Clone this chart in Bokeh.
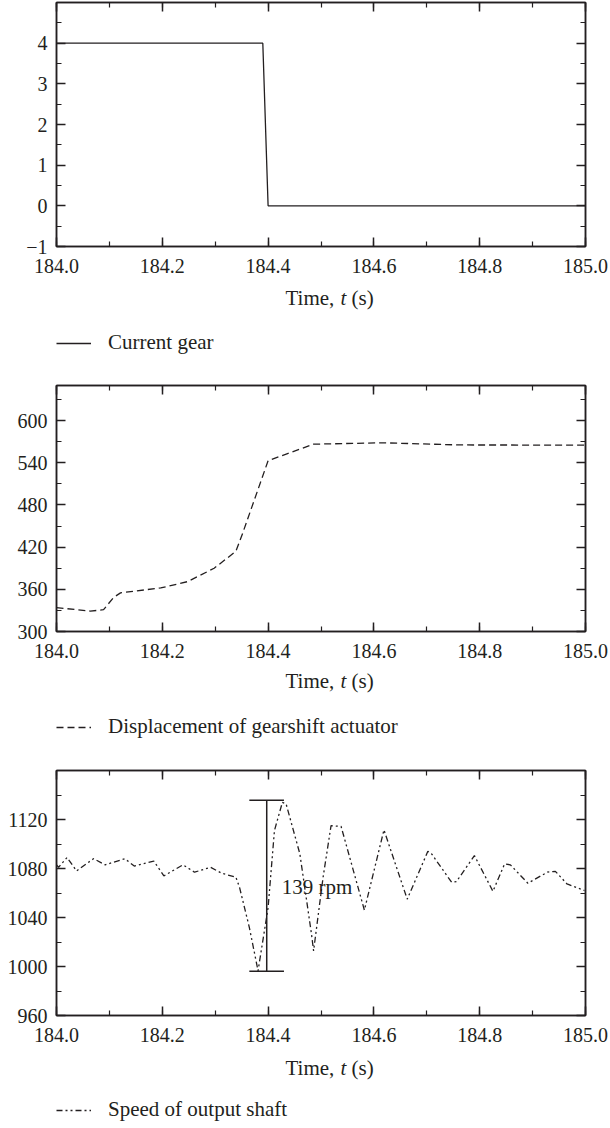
from bokeh.plotting import figure
from bokeh.models import (Range1d, FixedTicker, LinearAxis, Legend, LegendItem,
                          PrintfTickFormatter, CustomJSTickFormatter, Label)
from bokeh.layouts import column
from bokeh.embed import file_html
from bokeh.resources import INLINE
from bokeh.core.properties import value

FONT = "Liberation Serif"
INK = "#231f20"

# ---------------- data ----------------
time_ticks = [184.0, 184.2, 184.4, 184.6, 184.8, 185.0]
time_minor = [184.0, 184.1, 184.2, 184.3, 184.4, 184.5, 184.6, 184.7, 184.8, 184.9, 185.0]

# panel 1: current gear
gear_t = [184.0, 184.39, 184.40, 185.0]
gear_v = [4, 4, 0, 0]
gear_ticks = [-1, 0, 1, 2, 3, 4]
gear_minor = [-0.5, 0.5, 1.5, 2.5, 3.5, 4.5]

# panel 2: displacement of gearshift actuator
disp_t = [184.0, 184.064, 184.089, 184.108, 184.121, 184.197, 184.248, 184.298,
          184.339, 184.352, 184.400, 184.438, 184.486, 184.615, 184.762, 185.0]
disp_v = [334, 329, 331, 348.5, 355, 362, 371, 390,
          414, 440, 543, 553.5, 566.5, 568.5, 565.4, 565.2]
disp_ticks = [300, 360, 420, 480, 540, 600]
disp_minor = [330, 390, 450, 510, 570, 630]

# panel 3: speed of output shaft
speed_t = [184.0, 184.004, 184.020, 184.038, 184.070, 184.092, 184.129, 184.147, 184.184,
           184.203, 184.239, 184.261, 184.291, 184.313, 184.339, 184.346, 184.3645,
           184.381, 184.400, 184.412, 184.427, 184.434, 184.460, 184.482, 184.486,
           184.504, 184.519, 184.538, 184.582, 184.619, 184.663, 184.702, 184.709,
           184.747, 184.756, 184.790, 184.825, 184.847, 184.858, 184.891, 184.928,
           184.943, 184.965, 184.998]
speed_v = [1083, 1081, 1089, 1078, 1088, 1083, 1088, 1082, 1086,
           1074, 1083, 1077, 1081, 1076, 1073, 1064.6, 1032,
           996.5, 1048, 1111, 1134, 1132.8, 1092, 1026.5, 1012.8,
           1073, 1115, 1114.3, 1046, 1111.5, 1055, 1094, 1092,
           1068.7, 1069.3, 1090.5, 1061.4, 1083.7, 1083, 1068, 1077,
           1077.7, 1067.4, 1062]
speed_ticks = [960, 1000, 1040, 1080, 1120]
speed_minor = [980, 1020, 1060, 1100, 1140]

# amplitude annotation (139 rpm)
amp_t = [184.3974]
amp_low = [996.1]
amp_high = [1135.8]
amp_cap_t0 = [184.3645]
amp_cap_t1 = [184.430]
amp_text = ["139 rpm"]
amp_text_t = [184.4257]
amp_text_v = [1065]

legend_names = ["Current gear", "Displacement of gearshift actuator", "Speed of output shaft"]
x_title_parts = ["Time,", "t", "(s)"]


def mirror_axis(ticker):
    ax = LinearAxis(ticker=ticker,
                    formatter=CustomJSTickFormatter(code="return ''"),
                    major_label_text_font_size="0px", major_label_standoff=0,
                    major_tick_in=9, major_tick_out=0,
                    minor_tick_in=5, minor_tick_out=0,
                    major_tick_line_color=INK, minor_tick_line_color=INK,
                    major_tick_line_width=1.5, minor_tick_line_width=1.2,
                    axis_line_color=INK, axis_line_width=1.5)
    return ax


def make_panel(height, top, frame_h, yr, yticks, yminor, yoverrides):
    p = figure(width=610, height=height, x_range=Range1d(184.0, 185.0),
               y_range=Range1d(*yr), output_backend="svg", toolbar_location=None,
               tools="", min_border_left=56, min_border_right=25,
               min_border_top=top, min_border_bottom=height - top - frame_h)
    p.grid.visible = False
    p.outline_line_color = INK
    p.outline_line_width = 1.5
    p.background_fill_color = "white"
    p.border_fill_color = "white"

    xt = FixedTicker(ticks=time_ticks, minor_ticks=time_minor)
    yt = FixedTicker(ticks=yticks, minor_ticks=yminor)

    xa = p.xaxis[0]
    xa.ticker = xt
    xa.formatter = PrintfTickFormatter(format="%.1f")
    ya = p.yaxis[0]
    ya.ticker = yt
    if yoverrides:
        ya.major_label_overrides = yoverrides
    for ax in (xa, ya):
        ax.major_tick_in = 9
        ax.major_tick_out = 0
        ax.minor_tick_in = 5
        ax.minor_tick_out = 0
        ax.major_tick_line_color = INK
        ax.minor_tick_line_color = INK
        ax.major_tick_line_width = 1.5
        ax.minor_tick_line_width = 1.2
        ax.axis_line_color = INK
        ax.axis_line_width = 1.5
        ax.major_label_text_font = FONT
        ax.major_label_text_font_size = "20px"
        ax.major_label_text_color = INK
    xa.major_label_standoff = 12
    ya.major_label_standoff = 9

    p.add_layout(mirror_axis(xt), "above")
    p.add_layout(mirror_axis(yt), "right")
    return p


def make_caption(height, title_y, legend_y, name, xs, ys, dash):
    """Axis title 'Time, t (s)' and the legend row under a panel (y measured from top).
    The caption's frame is aligned with the panel frame above it (x offsets in px from frame left)."""
    c = figure(width=610, height=height, x_range=Range1d(184.0, 185.0), y_range=Range1d(height, 0),
               output_backend="svg", toolbar_location=None, tools="",
               x_axis_type=None, y_axis_type=None,
               min_border=0, min_border_left=56, min_border_right=25,
               min_border_top=0, min_border_bottom=0)
    c.grid.visible = False
    c.outline_line_color = None
    c.background_fill_color = "white"
    c.border_fill_color = "white"
    base = dict(y=title_y, x_units="screen", text_font=FONT, text_font_size="21px",
                text_color=INK, text_baseline="middle", text_align="left")
    c.add_layout(Label(x=229, text=x_title_parts[0], **base))
    c.add_layout(Label(x=283.9, text=x_title_parts[1], text_font_style="italic", **base))
    c.add_layout(Label(x=295.0, text=x_title_parts[2], **base))
    kw = dict(line_color=INK, line_width=1.3)
    if dash:
        kw["line_dash"] = dash
    # the series itself, hidden here: it only supplies the legend sample
    r = c.line(x=xs, y=ys, visible=False, **kw)
    leg = Legend(items=[LegendItem(label=name, renderers=[r])],
                 location=(0, height - legend_y - 12),
                 glyph_width=35, glyph_height=20, label_standoff=17,
                 padding=0, margin=0, border_line_color=None,
                 background_fill_alpha=0, inactive_fill_alpha=0,
                 label_text_font=FONT,
                 label_text_font_size="21px", label_text_color=INK)
    c.add_layout(leg)
    return c


# panel 1
p1 = make_panel(280, 2, 244, (-1, 5), gear_ticks, gear_minor, {-1: "\u22121"})
p1.line(gear_t, gear_v, line_color=INK, line_width=1.3)
c1 = make_caption(103, 17, 63, legend_names[0], gear_t, gear_v, None)

# panel 2
p2 = make_panel(282, 2, 246, (300, 650), disp_ticks, disp_minor, None)
p2.line(disp_t, disp_v, line_color=INK, line_width=1.3, line_dash="7 4")
c2 = make_caption(101, 15, 62, legend_names[1], disp_t, disp_v, "7 4")

# panel 3
p3 = make_panel(283, 4, 245, (960, 1160), speed_ticks, speed_minor, None)
p3.line(speed_t, speed_v, line_color=INK, line_width=1.3, line_dash="6 3 2 3 2 3")
p3.segment(x0=amp_t, y0=amp_low, x1=amp_t, y1=amp_high, line_color=INK, line_width=1.5)
p3.segment(x0=amp_cap_t0, y0=amp_low, x1=amp_cap_t1, y1=amp_low, line_color=INK, line_width=1.5)
p3.segment(x0=amp_cap_t0, y0=amp_high, x1=amp_cap_t1, y1=amp_high, line_color=INK, line_width=1.5)
p3.text(x=amp_text_t, y=amp_text_v, text=amp_text, text_font=value(FONT),
        text_font_size="21px", text_color=INK, text_baseline="middle", text_align="left")
c3 = make_caption(79, 18, 61, legend_names[2], speed_t, speed_v, "6 3 2 3 2 3")

layout = column(p1, c1, p2, c2, p3, c3, spacing=0)
open("out.html", "w").write(file_html(layout, INLINE))
